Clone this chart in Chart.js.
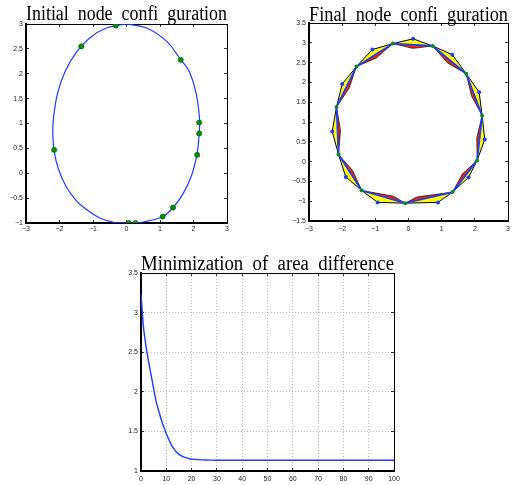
<!DOCTYPE html>
<html>
<head>
<meta charset="utf-8">
<script src="https://cdn.jsdelivr.net/npm/chart.js@4.4.1/dist/chart.umd.min.js"></script>
<style>
  body { margin: 0; background: #fff; }
  canvas { position: absolute; }
</style>
</head>
<body>
<canvas id="c1" width="257" height="240" style="left:0;top:0"></canvas>
<canvas id="c2" width="262" height="240" style="left:262px;top:0"></canvas>
<canvas id="c3" width="335" height="235" style="left:100px;top:250px"></canvas>
<script>
// --- initial node configuration ---
const curveX = [0.0, -0.6, -1.1, -1.5, -1.83, -2.06, -2.18, -2.2, -2.16, -2.04, -1.8, -1.5, -1.25, -0.8, -0.35, 0.1, 0.5, 1.08, 1.39, 1.7, 1.95, 2.1, 2.17, 2.18, 2.08, 1.87, 1.62, 1.2, 0.6, 0.0];
const curveY = [3.0, 2.92, 2.72, 2.43, 2.05, 1.6, 1.1, 0.8, 0.45, 0.1, -0.27, -0.55, -0.7, -0.9, -0.99, -1.0, -0.98, -0.87, -0.69, -0.4, -0.03, 0.37, 0.8, 1.1, 1.6, 2.05, 2.28, 2.65, 2.92, 3.0];
const initNodeX = [-0.32, -1.35, 1.62, 2.17, 2.17, 2.11, -2.16, 1.39, 1.08, 0.07, 0.27];
const initNodeY = [2.97, 2.55, 2.28, 1.02, 0.80, 0.37, 0.47, -0.69, -0.87, -1.0, -1.0];

// --- final node configuration ---
const blueX = [0.14, 1.32, 2.13, 2.30, 1.81, 0.89, -0.93, -1.89, -2.30, -2.00, -1.09];
const blueY = [3.10, 2.70, 1.75, 0.56, -0.40, -1.03, -1.03, -0.39, 0.76, 1.96, 2.83];
const greenX = [0.73, 1.74, 2.22, 2.07, 1.33, -0.10, -1.41, -2.11, -2.17, -1.57, -0.47];
const greenY = [2.92, 2.22, 1.16, 0.03, -0.77, -1.05, -0.73, 0.18, 1.38, 2.40, 2.98];
const innerX = [1.18, 1.90, 2.06, 1.625, 0.25, -0.45, -1.685, -2.05, -1.79, -0.975, 0.13];
const innerY = [2.49, 1.66, 0.605, -0.31, -0.895, -0.875, -0.225, 0.785, 1.855, 2.615, 2.86];

// --- minimization of area difference ---
const iterations = [0, 1, 2, 3, 4, 5, 6, 7, 8, 9, 10, 11, 12, 13, 14, 15, 16, 17, 18, 19, 20, 22, 24, 26, 28, 30, 40, 50, 60, 70, 80, 90, 100];
const areaDiff = [3.23, 2.81, 2.57, 2.38, 2.21, 2.04, 1.88, 1.76, 1.65, 1.56, 1.47, 1.40, 1.33, 1.28, 1.24, 1.21, 1.19, 1.175, 1.165, 1.155, 1.15, 1.145, 1.14, 1.138, 1.137, 1.136, 1.135, 1.135, 1.135, 1.135, 1.135, 1.135, 1.135];

// tick labels
const xTicks = [-3, -2, -1, 0, 1, 2, 3];
const initYTicks = [-1, -0.5, 0, 0.5, 1, 1.5, 2, 2.5, 3];
const finalYTicks = [-1.5, -1, -0.5, 0, 0.5, 1, 1.5, 2, 2.5, 3, 3.5];
const iterTicks = [0, 10, 20, 30, 40, 50, 60, 70, 80, 90, 100];
const diffTicks = [1, 1.5, 2, 2.5, 3, 3.5];

const BLUE = 'rgb(30,60,255)';
const GREEN = 'rgb(10,140,10)';
const tickFont = { family: "'Liberation Sans', Arial, sans-serif", size: 7 };
const titleFont = { family: "'Liberation Serif', 'Times New Roman', serif", size: 20, weight: 'normal', lineHeight: 1.2 };

function fmt(v) {
    const r = Math.round(v * 10) / 10;
    return (r < 0 ? '\u2212' : '') + Math.abs(r);
}

function pts(xs, ys) {
    return xs.map((x, i) => ({ x: x, y: ys[i] }));
}

// one axis: inward tick marks, optional labels and dotted grid
function scale(position, values, size, labels, pad, borderWidth, grid) {
    return {
        type: 'linear',
        position: position,
        min: values[0],
        max: values[values.length - 1],
        afterBuildTicks: a => { a.ticks = values.map(v => ({ value: v })); },
        afterFit: a => { if (a.isHorizontal()) a.height = size; else a.width = size; },
        ticks: { display: labels, padding: pad, autoSkip: false, maxRotation: 0, font: tickFont, color: '#222', callback: v => fmt(v) },
        grid: { drawOnChartArea: !!grid, color: '#aaa', lineWidth: 0.8, tickLength: -3, tickColor: '#000', tickWidth: 0.8 },
        border: { display: true, color: '#000', width: borderWidth, dash: grid ? [1, 2] : [] }
    };
}

function baseOptions(title, titleLH, titlePad, scales) {
    return {
        responsive: false,
        animation: false,
        layout: { padding: 0, autoPadding: false },
        plugins: {
            legend: { display: false },
            tooltip: { enabled: false },
            title: {
                display: true, text: title, fullSize: false, color: '#000',
                font: Object.assign({}, titleFont, { lineHeight: titleLH }),
                padding: { top: titlePad, bottom: -titlePad }
            }
        },
        scales: scales
    };
}

// chart 1
const curve = pts(curveX, curveY);
new Chart(document.getElementById('c1'), {
    type: 'line',
    data: {
        datasets: [
            { data: pts(initNodeX, initNodeY), showLine: false, pointRadius: 2.6, pointBackgroundColor: GREEN, pointBorderColor: 'rgb(0,90,0)', pointBorderWidth: 0.6, order: 1 },
            { data: curve, borderColor: BLUE, borderWidth: 1.2, pointRadius: 0, tension: 0.4, fill: false, order: 2 }
        ]
    },
    options: baseOptions('Initial  node  confi  guration', 1.2, 3, {
        x: scale('bottom', xTicks, 17, true, 5, 2),
        y: scale('left', initYTicks, 26, true, 6, 2),
        x2: scale('top', xTicks, 0, false, 0, 1),
        y2: scale('right', initYTicks, 30, false, 0, 1)
    })
});

// chart 2: polygons built from node arrays
const outer = [];
const star = [];
for (let i = 0; i < blueX.length; i++) {
    outer.push({ x: blueX[i], y: blueY[i] }, { x: greenX[i], y: greenY[i] });
    star.push({ x: greenX[i], y: greenY[i] }, { x: innerX[i], y: innerY[i] });
}
outer.push(outer[0]);
star.push(star[0]);
const greenPoly = pts(greenX, greenY);
greenPoly.push(greenPoly[0]);

new Chart(document.getElementById('c2'), {
    type: 'line',
    data: {
        datasets: [
            { data: pts(greenX, greenY), showLine: false, pointRadius: 2, pointBackgroundColor: GREEN, pointBorderWidth: 0, order: 1 },
            { data: pts(blueX, blueY), showLine: false, pointRadius: 2, pointBackgroundColor: BLUE, pointBorderWidth: 0, order: 2 },
            { data: greenPoly, borderColor: BLUE, borderWidth: 1.8, pointRadius: 0, fill: false, order: 3 },
            { data: star, borderColor: '#000', borderWidth: 0.7, backgroundColor: '#fff', pointRadius: 0, fill: 'shape', order: 4 },
            { data: greenPoly, borderWidth: 0, backgroundColor: 'rgb(240,40,10)', pointRadius: 0, fill: 'shape', order: 5 },
            { data: outer, borderColor: '#000', borderWidth: 1, backgroundColor: 'rgb(255,255,0)', pointRadius: 0, fill: 'shape', order: 6 }
        ]
    },
    options: baseOptions('Final  node  confi  guration', 1.15, 4, {
        x: scale('bottom', xTicks, 19, true, 7, 2),
        y: scale('left', finalYTicks, 47, true, 6, 2),
        x2: scale('top', xTicks, 0, false, 0, 1),
        y2: scale('right', finalYTicks, 16, false, 0, 1)
    })
});

// chart 3
new Chart(document.getElementById('c3'), {
    type: 'line',
    data: {
        datasets: [
            { data: pts(iterations, areaDiff), borderColor: BLUE, borderWidth: 1.4, pointRadius: 0, tension: 0.3, fill: false }
        ]
    },
    options: baseOptions('Minimization  of  area  difference', 1.15, 3, {
        x: scale('bottom', iterTicks, 14, true, 6.5, 2, true),
        y: scale('left', diffTicks, 41, true, 6, 2, true),
        x2: scale('top', iterTicks, 0, false, 0, 1),
        y2: scale('right', diffTicks, 41, false, 0, 1)
    })
});
</script>
</body>
</html>
